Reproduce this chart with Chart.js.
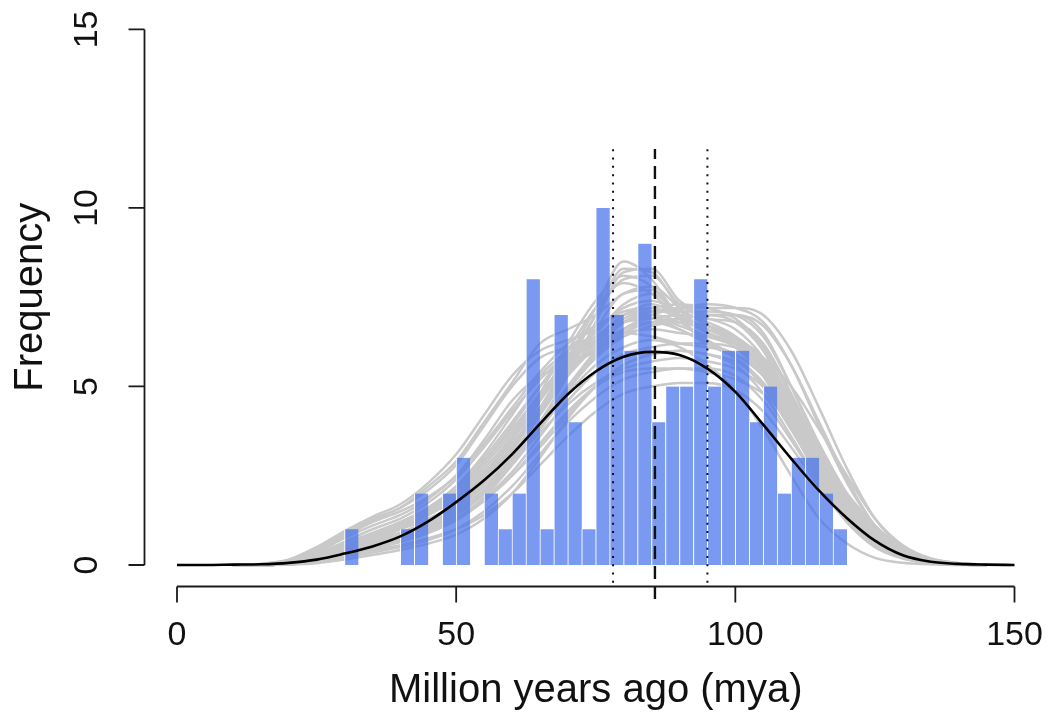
<!DOCTYPE html>
<html>
<head>
<meta charset="utf-8">
<script src="https://cdn.jsdelivr.net/npm/chart.js@4/dist/chart.umd.min.js"></script>
<style>
  html, body { margin: 0; padding: 0; background: #fff; }
  #wrap { width: 1048px; height: 718px; position: relative; }
</style>
</head>
<body>
<div id="wrap"><canvas id="ageChart"></canvas></div>
<script>
// histogram of node ages, 2.5 my bins (bin midpoints)
const binMids = [31.25, 33.75, 36.25, 38.75, 41.25, 43.75, 46.25, 48.75, 51.25, 53.75,
                 56.25, 58.75, 61.25, 63.75, 66.25, 68.75, 71.25, 73.75, 76.25, 78.75,
                 81.25, 83.75, 86.25, 88.75, 91.25, 93.75, 96.25, 98.75, 101.25, 103.75,
                 106.25, 108.75, 111.25, 113.75, 116.25, 118.75];
const binCounts = [1, 0, 0, 0, 1, 2, 0, 2, 3, 0,
                   2, 1, 2, 8, 1, 7, 4, 1, 10, 7,
                   6, 9, 4, 5, 5, 8, 5, 6, 6, 4,
                   5, 2, 3, 3, 2, 1];

// fitted curve (black)
const fitX = [0, 5, 10, 15, 20, 25, 30, 35, 40, 45, 50, 55, 60, 65, 70, 75, 80, 85, 90, 95,
              100, 105, 110, 115, 120, 125, 130, 135, 140, 145, 150];
const fitY = [0, 0, 0.01, 0.02, 0.06, 0.15, 0.32, 0.52, 0.8, 1.22, 1.76, 2.37, 3.1, 3.95, 4.78, 5.42, 5.83, 5.97, 5.88, 5.5,
              4.85, 3.93, 2.98, 2.08, 1.31, 0.68, 0.27, 0.09, 0.03, 0.01, 0];

// replicate density curves (grey)
const repX = [10, 15, 20, 25, 30, 35, 40, 45, 50, 55, 60, 65, 70, 75, 80, 85, 90, 95,
              100, 105, 110, 115, 120, 125, 130, 135, 140, 145];
const replicates = [
    [0, 0, 0.02, 0.1, 0.3, 0.5, 0.7, 1.0, 1.4, 2.0, 3.0, 4.3, 5.6, 7.0, 8.3, 8.2, 7.2, 6.5, 6.2, 5.5, 4.2, 2.8, 1.6, 0.8, 0.3, 0.1, 0.03, 0],
    [0, 0, 0.03, 0.15, 0.4, 0.7, 0.9, 1.2, 1.7, 2.5, 3.5, 4.6, 5.8, 7.2, 8.5, 8.0, 6.9, 6.4, 6.3, 5.8, 4.6, 3.0, 1.7, 0.8, 0.3, 0.1, 0.02, 0],
    [0, 0, 0.02, 0.12, 0.35, 0.6, 0.85, 1.15, 1.6, 2.3, 3.3, 4.6, 6.0, 7.2, 7.9, 7.6, 6.9, 6.6, 6.4, 5.7, 4.3, 2.8, 1.5, 0.7, 0.25, 0.08, 0.02, 0],
    [0, 0, 0.02, 0.1, 0.3, 0.55, 0.8, 1.1, 1.5, 2.1, 2.9, 4.0, 5.3, 6.8, 8.2, 8.3, 7.4, 7.0, 7.0, 6.5, 5.0, 3.3, 1.9, 0.9, 0.35, 0.1, 0.03, 0],
    [0, 0, 0.02, 0.12, 0.35, 0.6, 0.85, 1.2, 1.7, 2.4, 3.3, 4.4, 5.5, 6.6, 7.6, 7.7, 7.0, 6.5, 6.2, 5.6, 4.4, 3.0, 1.7, 0.8, 0.3, 0.1, 0.02, 0],
    [0, 0, 0.03, 0.15, 0.4, 0.7, 1.0, 1.4, 1.9, 2.6, 3.4, 4.4, 5.4, 6.3, 6.9, 7.1, 7.1, 7.1, 7.0, 6.4, 5.0, 3.4, 2.0, 1.0, 0.4, 0.13, 0.03, 0],
    [0, 0.01, 0.05, 0.2, 0.5, 0.8, 1.1, 1.5, 2.1, 2.9, 3.9, 5.0, 6.0, 6.7, 7.0, 7.2, 7.3, 7.2, 6.9, 6.1, 4.7, 3.1, 1.8, 0.85, 0.33, 0.1, 0.02, 0],
    [0, 0, 0.03, 0.15, 0.35, 0.6, 0.9, 1.2, 1.6, 2.2, 3.0, 4.0, 5.0, 5.9, 6.5, 6.8, 6.9, 7.0, 6.8, 6.0, 4.5, 2.9, 1.6, 0.7, 0.25, 0.08, 0.02, 0],
    [0, 0, 0.02, 0.1, 0.3, 0.5, 0.8, 1.1, 1.5, 2.1, 2.9, 3.9, 4.9, 5.8, 6.4, 6.7, 6.9, 7.0, 7.0, 6.7, 5.6, 4.0, 2.4, 1.1, 0.45, 0.15, 0.04, 0],
    [0, 0.01, 0.05, 0.2, 0.45, 0.75, 1.05, 1.45, 2.0, 2.7, 3.6, 4.7, 5.7, 6.4, 6.8, 6.9, 7.0, 6.9, 6.6, 5.8, 4.4, 2.8, 1.5, 0.7, 0.25, 0.08, 0.02, 0],
    [0, 0.02, 0.1, 0.35, 0.8, 1.2, 1.5, 1.9, 2.5, 3.5, 4.6, 5.3, 5.6, 6.0, 6.6, 6.9, 6.8, 6.6, 6.3, 5.5, 4.1, 2.6, 1.4, 0.6, 0.2, 0.06, 0.01, 0],
    [0, 0.02, 0.12, 0.4, 0.85, 1.25, 1.6, 2.1, 2.8, 3.9, 5.0, 5.8, 6.1, 6.4, 7.0, 7.3, 7.0, 6.6, 6.2, 5.3, 3.9, 2.4, 1.3, 0.55, 0.2, 0.05, 0.01, 0],
    [0, 0.03, 0.15, 0.45, 0.9, 1.3, 1.6, 2.2, 2.9, 4.0, 5.1, 6.2, 6.6, 7.0, 7.6, 7.8, 7.2, 6.7, 6.3, 5.4, 4.0, 2.5, 1.3, 0.55, 0.2, 0.05, 0.01, 0],
    [0, 0, 0.02, 0.1, 0.25, 0.4, 0.55, 0.75, 1.0, 1.4, 2.0, 2.8, 3.6, 4.3, 4.8, 5.0, 5.1, 5.1, 4.9, 4.3, 3.3, 2.2, 1.2, 0.55, 0.2, 0.06, 0.01, 0],
    [0, 0, 0.02, 0.08, 0.2, 0.35, 0.5, 0.7, 1.0, 1.5, 2.2, 3.1, 4.0, 4.7, 5.2, 5.4, 5.5, 5.5, 5.3, 4.6, 3.5, 2.3, 1.3, 0.6, 0.22, 0.07, 0.02, 0],
    [0, 0, 0.03, 0.12, 0.3, 0.5, 0.7, 0.95, 1.3, 1.8, 2.5, 3.3, 4.2, 5.0, 5.6, 5.9, 6.0, 5.9, 5.6, 4.8, 3.6, 2.3, 1.2, 0.5, 0.18, 0.05, 0.01, 0],
    [0, 0, 0.02, 0.1, 0.3, 0.5, 0.75, 1.0, 1.4, 2.0, 2.8, 3.8, 4.8, 5.6, 6.1, 6.3, 6.1, 5.6, 4.9, 3.8, 2.5, 1.3, 0.6, 0.2, 0.06, 0.02, 0, 0],
    [0, 0.01, 0.05, 0.2, 0.45, 0.75, 1.05, 1.4, 1.9, 2.6, 3.5, 4.6, 5.6, 6.3, 6.8, 6.9, 6.7, 6.4, 6.1, 5.3, 3.9, 2.5, 1.3, 0.6, 0.22, 0.07, 0.01, 0],
    [0, 0.01, 0.06, 0.25, 0.55, 0.85, 1.15, 1.55, 2.1, 2.9, 3.8, 4.8, 5.7, 6.2, 6.5, 6.6, 6.5, 6.4, 6.2, 5.6, 4.4, 2.9, 1.6, 0.75, 0.28, 0.09, 0.02, 0],
    [0, 0, 0.04, 0.18, 0.45, 0.75, 1.0, 1.3, 1.7, 2.3, 3.1, 4.2, 5.3, 6.2, 6.8, 7.0, 6.8, 6.3, 5.8, 5.0, 3.8, 2.5, 1.4, 0.65, 0.25, 0.08, 0.02, 0],
    [0, 0.01, 0.07, 0.28, 0.6, 0.9, 1.2, 1.6, 2.2, 3.0, 4.0, 5.0, 5.8, 6.3, 6.5, 6.4, 6.2, 6.1, 5.9, 5.3, 4.2, 2.9, 1.7, 0.8, 0.3, 0.1, 0.02, 0],
    [0, 0, 0.02, 0.1, 0.25, 0.45, 0.65, 0.9, 1.25, 1.8, 2.5, 3.4, 4.3, 5.0, 5.4, 5.5, 5.5, 5.4, 5.2, 4.8, 4.0, 3.0, 2.0, 1.1, 0.5, 0.18, 0.05, 0.01],
    [0, 0.03, 0.15, 0.5, 0.95, 1.35, 1.7, 2.3, 3.1, 4.2, 5.3, 6.0, 6.3, 6.6, 7.2, 7.4, 7.1, 6.8, 6.4, 5.5, 4.0, 2.5, 1.3, 0.55, 0.2, 0.05, 0.01, 0],
    [0, 0, 0.03, 0.14, 0.38, 0.65, 0.9, 1.25, 1.75, 2.5, 3.5, 4.8, 6.2, 7.4, 8.1, 7.8, 6.9, 6.2, 5.8, 5.1, 3.9, 2.6, 1.4, 0.65, 0.25, 0.07, 0.01, 0],
    [0, 0, 0.02, 0.1, 0.28, 0.5, 0.75, 1.05, 1.45, 2.0, 2.8, 3.8, 4.9, 5.9, 6.6, 7.0, 7.2, 7.3, 7.2, 6.8, 5.6, 3.9, 2.3, 1.1, 0.42, 0.13, 0.03, 0],
    [0, 0.01, 0.04, 0.15, 0.35, 0.55, 0.8, 1.1, 1.5, 2.1, 2.9, 3.7, 4.5, 5.1, 5.5, 5.7, 5.8, 5.7, 5.5, 5.0, 4.1, 3.0, 1.9, 1.0, 0.42, 0.14, 0.04, 0],
    [0, 0.01, 0.06, 0.22, 0.5, 0.8, 1.1, 1.5, 2.0, 2.8, 3.7, 4.7, 5.5, 6.0, 6.4, 6.7, 6.8, 6.7, 6.4, 5.7, 4.5, 3.1, 1.8, 0.85, 0.33, 0.1, 0.02, 0],
    [0, 0.02, 0.08, 0.3, 0.65, 1.0, 1.3, 1.75, 2.4, 3.3, 4.3, 5.2, 5.9, 6.4, 6.8, 6.9, 6.6, 6.2, 5.8, 5.0, 3.8, 2.5, 1.4, 0.65, 0.25, 0.07, 0.01, 0],
    [0, 0, 0.03, 0.13, 0.36, 0.62, 0.88, 1.2, 1.65, 2.3, 3.2, 4.4, 5.7, 7.0, 8.0, 8.1, 7.3, 6.9, 6.8, 6.2, 4.8, 3.2, 1.8, 0.85, 0.32, 0.1, 0.02, 0],
    [0, 0, 0.02, 0.1, 0.25, 0.45, 0.65, 0.9, 1.3, 1.9, 2.8, 3.9, 5.0, 5.9, 6.5, 6.8, 6.8, 6.6, 6.3, 5.6, 4.4, 3.0, 1.7, 0.8, 0.3, 0.09, 0.02, 0],
    [0, 0.01, 0.05, 0.2, 0.48, 0.78, 1.05, 1.4, 1.85, 2.5, 3.3, 4.3, 5.3, 6.1, 6.6, 6.8, 6.6, 6.2, 5.9, 5.3, 4.3, 3.0, 1.8, 0.9, 0.35, 0.11, 0.03, 0],
    [0, 0, 0.02, 0.09, 0.25, 0.45, 0.7, 0.95, 1.3, 1.85, 2.6, 3.6, 4.6, 5.4, 5.9, 6.1, 6.2, 6.2, 6.1, 5.8, 5.0, 3.8, 2.5, 1.3, 0.55, 0.18, 0.05, 0.01],
    [0, 0.02, 0.1, 0.35, 0.75, 1.1, 1.4, 1.85, 2.5, 3.4, 4.4, 5.4, 6.2, 6.7, 7.1, 7.2, 6.9, 6.5, 6.1, 5.3, 4.0, 2.6, 1.4, 0.6, 0.22, 0.06, 0.01, 0],
    [0, 0, 0.02, 0.1, 0.3, 0.52, 0.78, 1.08, 1.5, 2.1, 2.9, 3.9, 5.0, 6.0, 6.8, 7.1, 7.2, 7.2, 7.2, 7.0, 6.0, 4.4, 2.7, 1.3, 0.5, 0.16, 0.04, 0],
    [0, 0, 0.01, 0.05, 0.15, 0.28, 0.42, 0.6, 0.85, 1.3, 2.0, 3.0, 4.1, 5.0, 5.6, 5.9, 6.0, 5.9, 5.7, 5.1, 4.0, 2.7, 1.5, 0.7, 0.26, 0.08, 0.02, 0],
    [0, 0.01, 0.06, 0.24, 0.55, 0.88, 1.2, 1.6, 2.2, 3.1, 4.2, 5.3, 6.0, 6.5, 7.3, 7.6, 7.0, 6.5, 6.2, 5.5, 4.2, 2.7, 1.5, 0.65, 0.24, 0.07, 0.01, 0]
];

// mean age and its interval
const meanAge = 85.6;
const ciLow = 78.1;
const ciHigh = 95.0;
const markTop = 11.65;

// axis ticks
const xTicks = [0, 50, 100, 150];
const yTicks = [0, 5, 10, 15];

const FONT = '"Liberation Sans", Arial, Helvetica, sans-serif';

function pts(xs, ys) {
    return xs.map((x, i) => ({ x: x, y: ys[i] }));
}

// base-graphics style axes, drawn detached from the plot region
const baseAxes = {
    id: 'baseAxes',
    afterDraw(chart) {
        const { ctx, chartArea, scales } = chart;
        const xs = scales.x, ys = scales.y;
        const tick = 16;
        ctx.save();
        ctx.strokeStyle = '#1a1a1a';
        ctx.fillStyle = '#111';
        ctx.lineWidth = 1.8;
        ctx.lineCap = 'butt';

        // x axis
        const ay = Math.round(chartArea.bottom) + 0.5;
        ctx.beginPath();
        ctx.moveTo(xs.getPixelForValue(xTicks[0]), ay);
        ctx.lineTo(xs.getPixelForValue(xTicks[xTicks.length - 1]), ay);
        xTicks.forEach(v => {
            const px = xs.getPixelForValue(v);
            ctx.moveTo(px, ay);
            ctx.lineTo(px, ay + tick);
        });
        ctx.stroke();
        ctx.font = '34px ' + FONT;
        ctx.textAlign = 'center';
        ctx.textBaseline = 'middle';
        xTicks.forEach(v => ctx.fillText(String(v), xs.getPixelForValue(v), 636));
        ctx.font = '40px ' + FONT;
        ctx.fillText('Million years ago (mya)', (chartArea.left + chartArea.right) / 2, 691);

        // y axis
        const ax = Math.round(chartArea.left) + 0.5;
        ctx.beginPath();
        ctx.moveTo(ax, ys.getPixelForValue(yTicks[0]));
        ctx.lineTo(ax, ys.getPixelForValue(yTicks[yTicks.length - 1]));
        yTicks.forEach(v => {
            const py = ys.getPixelForValue(v);
            ctx.moveTo(ax, py);
            ctx.lineTo(ax - tick, py);
        });
        ctx.stroke();
        ctx.font = '34px ' + FONT;
        yTicks.forEach(v => {
            ctx.save();
            ctx.translate(88, ys.getPixelForValue(v));
            ctx.rotate(-Math.PI / 2);
            ctx.fillText(String(v), 0, 0);
            ctx.restore();
        });
        ctx.save();
        ctx.font = '40px ' + FONT;
        ctx.translate(31, (chartArea.top + chartArea.bottom) / 2);
        ctx.rotate(-Math.PI / 2);
        ctx.fillText('Frequency', 0, 0);
        ctx.restore();
        ctx.restore();
    }
};

const greySets = replicates.map(r => ({
    type: 'line',
    data: pts(repX, r),
    borderColor: '#c9c9c9',
    borderWidth: 2.5,
    pointRadius: 0,
    cubicInterpolationMode: 'monotone',
    fill: false,
    order: 5
}));

const ctx = document.getElementById('ageChart').getContext('2d');
new Chart(ctx, {
    type: 'bar',
    data: {
        datasets: [
            {
                type: 'line',
                data: [{ x: meanAge, y: -0.95 }, { x: meanAge, y: markTop }],
                borderColor: '#111',
                borderWidth: 2.4,
                borderDash: [13, 7],
                pointRadius: 0,
                clip: false,
                order: 0
            },
            {
                type: 'line',
                data: [{ x: ciLow, y: -0.5 }, { x: ciLow, y: markTop }],
                borderColor: '#111',
                borderWidth: 2,
                borderDash: [2, 6.3],
                pointRadius: 0,
                clip: false,
                order: 0
            },
            {
                type: 'line',
                data: [{ x: ciHigh, y: -0.5 }, { x: ciHigh, y: markTop }],
                borderColor: '#111',
                borderWidth: 2,
                borderDash: [2, 6.3],
                pointRadius: 0,
                clip: false,
                order: 0
            },
            {
                type: 'line',
                data: pts(fitX, fitY),
                borderColor: '#000',
                borderWidth: 2.6,
                pointRadius: 0,
                cubicInterpolationMode: 'monotone',
                fill: false,
                order: 1
            },
            {
                type: 'bar',
                data: pts(binMids, binCounts),
                backgroundColor: 'rgba(70, 115, 235, 0.72)',
                borderColor: '#ffffff',
                borderWidth: { top: 0, left: 1, right: 0, bottom: 0 },
                borderSkipped: false,
                barPercentage: 1,
                categoryPercentage: 1,
                order: 2
            },
            ...greySets
        ]
    },
    options: {
        responsive: true,
        maintainAspectRatio: false,
        animation: false,
        devicePixelRatio: 1,
        layout: { padding: { left: 143.5, right: 0, top: 8, bottom: 131.6 } },
        plugins: {
            legend: { display: false },
            tooltip: { enabled: false }
        },
        scales: {
            x: {
                type: 'linear',
                display: false,
                min: -6,
                max: 156,
                offset: false,
                afterBuildTicks: axis => { axis.ticks = xTicks.map(v => ({ value: v })); }
            },
            y: {
                type: 'linear',
                display: false,
                min: -0.6,
                max: 15.6,
                afterBuildTicks: axis => { axis.ticks = yTicks.map(v => ({ value: v })); }
            }
        }
    },
    plugins: [baseAxes]
});
</script>
</body>
</html>
